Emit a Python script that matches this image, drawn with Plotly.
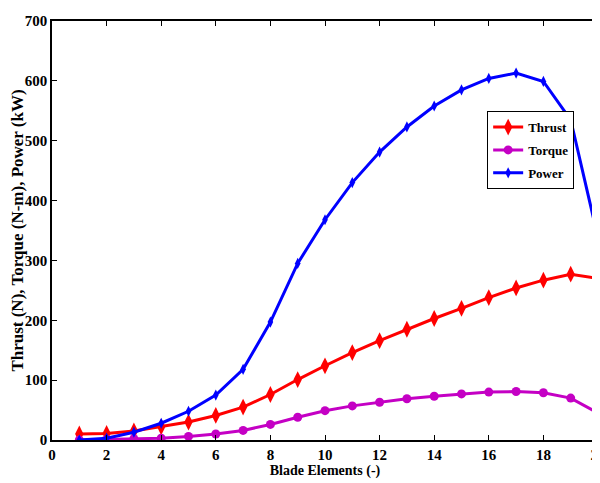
import plotly.graph_objects as go

x = list(range(1, 21))
thrust = [10, 11, 15, 22, 30, 41, 55, 76, 101, 124, 146, 166, 185, 203, 220, 238, 254, 267, 277, 270]
torque = [0, 1, 2, 3, 6, 10, 16, 26, 38, 49, 57, 63, 69, 73, 77, 80, 81, 79, 70, 45]
power = [0, 3, 13, 28, 48, 75, 118, 197, 295, 368, 430, 481, 523, 558, 585, 604, 613, 599, 535, 338]

font = "Liberation Serif, Times New Roman, serif"

fig = go.Figure()
fig.add_trace(go.Scatter(x=x, y=thrust, name="<b>Thrust</b>", mode="lines+markers",
                         legendgroup="a",
                         line=dict(color="#ff0000", width=3),
                         marker=dict(symbol="diamond-tall", size=12, color="#ff0000")))
fig.add_trace(go.Scatter(x=x, y=torque, name="<b>Torque</b>", mode="lines+markers",
                         legendgroup="b",
                         line=dict(color="#c400c4", width=3),
                         marker=dict(symbol="circle", size=9, color="#c400c4")))
fig.add_trace(go.Scatter(x=x, y=power, name="<b>Power</b>", mode="lines+markers",
                         legendgroup="c",
                         line=dict(color="#0000ff", width=3),
                         marker=dict(symbol="diamond-tall", size=8, color="#0000ff")))

axis_common = dict(showgrid=False, zeroline=False, showline=True, linecolor="black",
                   linewidth=1.5, mirror="ticks", ticks="inside", ticklen=5,
                   tickcolor="black", automargin=False, ticklabeloverflow="allow",
                   tickfont=dict(family=font, size=15, color="black"))

fig.update_layout(
    template="none",
    width=592, height=475,
    margin=dict(l=44, r=2, t=13, b=43),
    paper_bgcolor="white", plot_bgcolor="white",
    font=dict(family=font, color="black"),
    xaxis=dict(range=[0, 20], dtick=2, tickformat="d",
               title=dict(text="<b>Blade Elements (-)</b>", font=dict(family=font, size=14), standoff=0),
               **axis_common),
    yaxis=dict(range=[0, 700], dtick=100,
               title=dict(text="<b>Thrust (N), Torque (N-m), Power (kW)</b>", font=dict(family=font, size=17), standoff=3),
               **axis_common),
    showlegend=True,
    legend=dict(x=0.797, y=0.785, xanchor="left", yanchor="top",
                bgcolor="white", bordercolor="black", borderwidth=1,
                font=dict(family=font, size=13, color="black"),
                tracegroupgap=3, itemwidth=30),
)
fig.update_xaxes(tickprefix="<b>", ticksuffix="</b>")
fig.update_yaxes(tickprefix="<b>", ticksuffix="</b>")

fig.write_html("out.html")
